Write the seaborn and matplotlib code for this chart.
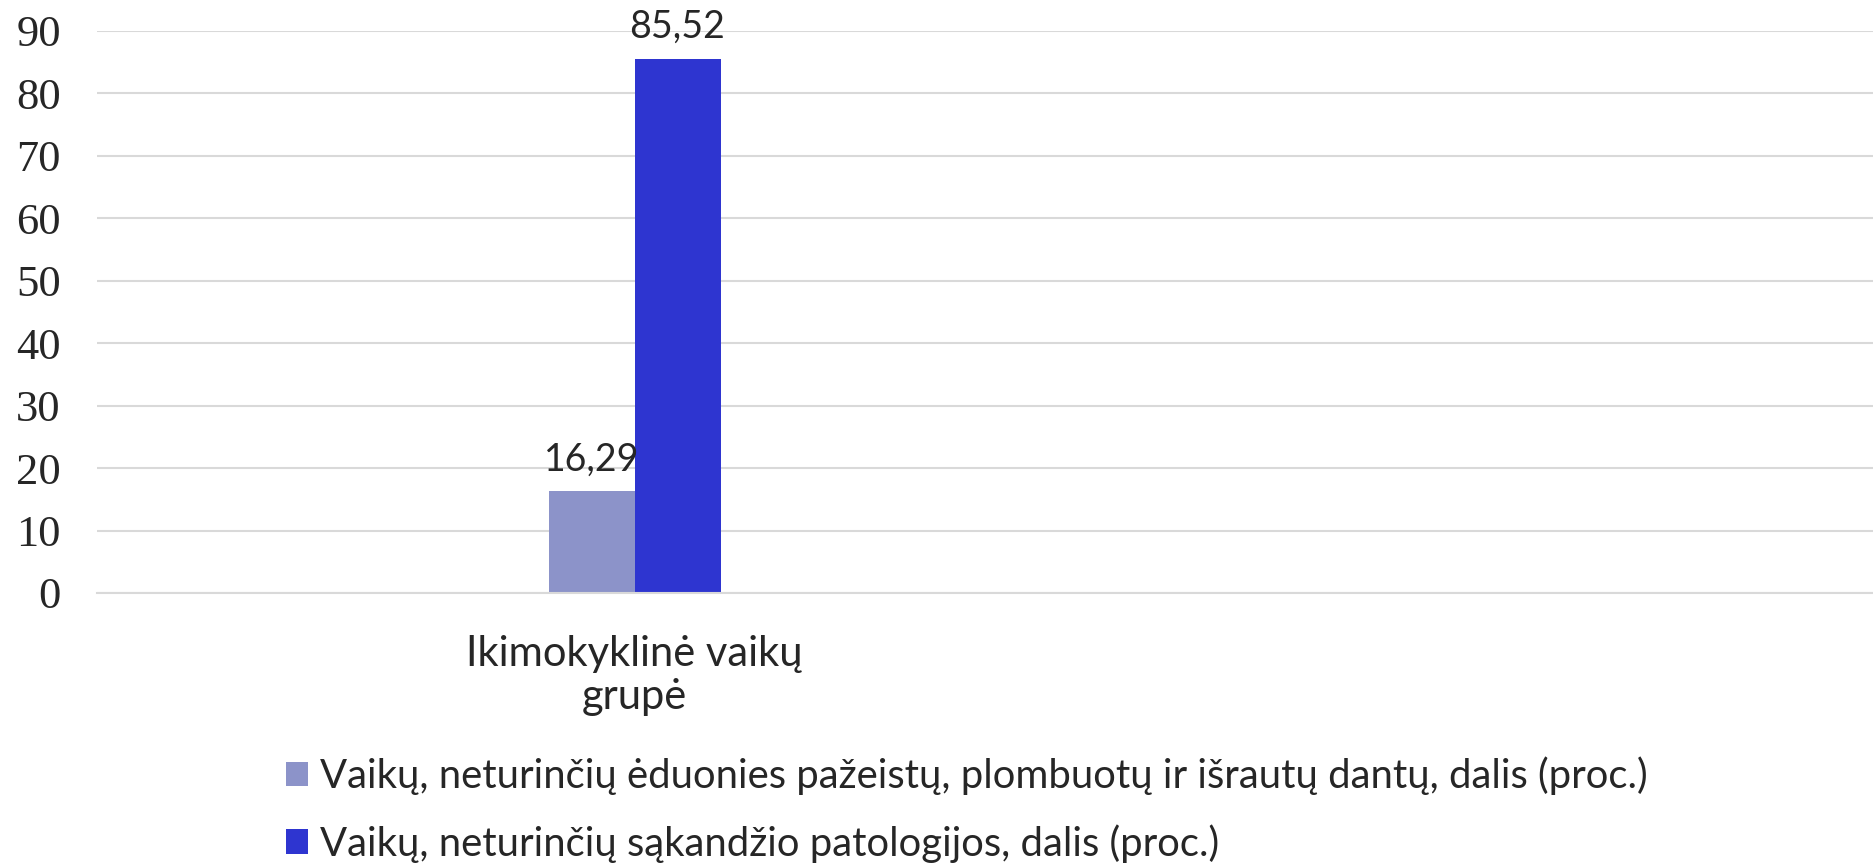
import pandas as pd
import seaborn as sns
import matplotlib.pyplot as plt

# data
groups = ["Ikimokyklinė vaikų\ngrupė"]
series = [
    "Vaikų, neturinčių ėduonies pažeistų, plombuotų ir išrautų dantų, dalis (proc.)",
    "Vaikų, neturinčių sąkandžio patologijos, dalis (proc.)",
]
values = [16.29, 85.52]
colors = ["#8C93C9", "#2E35D0"]

df = pd.DataFrame({"group": [groups[0]] * len(series), "series": series, "value": values})

sns.set_style("white")
plt.rcParams["font.family"] = ["Lato", "DejaVu Sans"]

fig = plt.figure(figsize=(18.73, 8.65), dpi=100)
ax = fig.add_axes([0.0518, 0.3145, 0.9482, 0.6497])

sns.barplot(data=df, x="group", y="value", hue="series", palette=colors,
            width=0.4, saturation=1, linewidth=0, ax=ax, legend=True)

ax.set_ylim(0, 90)
ax.set_xlim(-1.25, 2.88)
ax.set_yticks(range(0, 91, 10))
ax.yaxis.grid(True, color="#D9D9D9", linewidth=1.5)
ax.set_axisbelow(True)
ax.set_xlabel("")
ax.set_ylabel("")
for s in ["top", "right", "left"]:
    ax.spines[s].set_visible(False)
ax.spines["bottom"].set_color("#D9D9D9")
ax.spines["bottom"].set_linewidth(1.5)

ax.tick_params(axis="y", length=0, pad=26)
ax.tick_params(axis="x", length=0, pad=30)
for lab in ax.get_yticklabels():
    lab.set_fontfamily("Liberation Serif")
    lab.set_fontsize(32)
for lab in ax.get_xticklabels():
    lab.set_fontsize(30)
    lab.set_linespacing(1.18)

for cont in ax.containers:
    ax.bar_label(cont, labels=[f"{v:.2f}".replace(".", ",") for v in cont.datavalues],
                 fontsize=27, padding=10, clip_on=False)

ax.legend(loc="center left", bbox_to_anchor=(0.1525, 0.064), bbox_transform=fig.transFigure,
          frameon=False, fontsize=28.8, handlelength=0.55, handleheight=0.55,
          handletextpad=0.3, labelspacing=0.72, borderaxespad=0, borderpad=0)

plt.savefig("out.png", dpi=100)
